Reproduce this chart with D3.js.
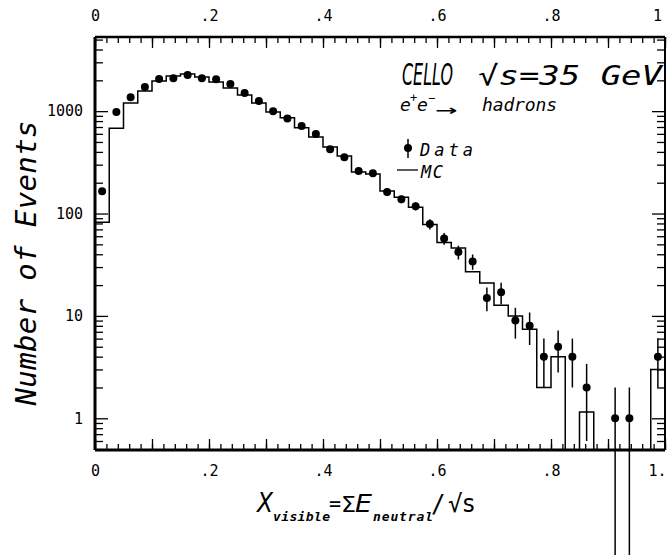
<!DOCTYPE html>
<html>
<head>
<meta charset="utf-8">
<script src="https://cdn.jsdelivr.net/npm/d3@7"></script>
<style>
  body { margin: 0; background: #fff; }
  svg { display: block; overflow: visible; }
  text { fill: #000; }
</style>
</head>
<body>
<div id="graph"></div>
<script>
const width = 669, height = 555;
const margin = {top: 37, right: 4, bottom: 105, left: 95};

// histogram binning: 40 bins of 0.025 in X_visible
const binWidth = 0.025;

// data points, one per bin (null = empty bin)
const dataCounts = [165, 980, 1370, 1720, 2060, 2100, 2260, 2100, 2050, 1840,
                    1500, 1255, 1000, 850, 715, 597, 425, 355, 260, 248,
                    162, 138, 118, 79, 57, 42, 34, 15, 17, 9,
                    8, 4, 5, 4, 2, null, 1, 1, null, 4];
const dataErrors = [13, 31, 37, 41, 45, 46, 48, 46, 45, 43,
                    39, 35, 32, 29, 27, 24, 21, 19, 16, 16,
                    13, 12, 11, 9, 7.5, 6.5, 5.8, 3.9, 4.1, 3,
                    2.8, 2, 2.2, 2, 1.4, null, 1, 1, null, 2];

// Monte Carlo histogram (0 = empty bin)
const mcCounts = [82, 680, 1200, 1570, 1970, 2200, 2300, 2150, 1930, 1680,
                  1440, 1200, 980, 860, 690, 558, 446, 364, 254, 243,
                  166, 144, 115, 78, 52, 46, 27, 21, 12.7, 10,
                  7.4, 2, 4, 0, 1.15, 0, 0, 0, 0, 3];

const xLabelTicks = [0, 0.2, 0.4, 0.6, 0.8, 1];
const xTopLabels = ["0", ".2", ".4", ".6", ".8", "1"];
const xBottomLabels = ["0", ".2", ".4", ".6", ".8", "1."];
const yMajorTicks = [1, 10, 100, 1000];

const plotW = width - margin.left - margin.right;
const plotH = height - margin.top - margin.bottom;

let svg = d3.select("#graph")
    .append("svg")
    .attr("width", width)
    .attr("height", height)
    .append("g")
    .attr("transform", `translate(${margin.left}, ${margin.top})`);

let x = d3.scaleLinear()
    .domain([0, 1])
    .range([0, plotW]);

let y = d3.scaleLog()
    .domain([0.49, 5300])
    .range([plotH, 0]);

// y position, empty bins sit on the bottom edge
function yv(v) { return v > 0 ? y(v) : plotH; }

const mono = "'DejaVu Sans Mono', monospace";

// ---- ticks (all pointing inwards) ----
let minorX = d3.range(51).map(i => i / 50);
let tenthX = d3.range(11).map(i => i / 10);
let logTicks = y.ticks();
let minorY = logTicks.filter(t => !yMajorTicks.includes(t));

function tickStyle(g) {
    g.select(".domain").remove();
    g.selectAll("line").attr("stroke", "#000").attr("stroke-width", 1.3);
}

svg.append("g").attr("transform", `translate(0, ${plotH})`)
    .call(d3.axisBottom(x).tickValues(minorX).tickSize(-6).tickFormat("")).call(tickStyle);
svg.append("g").attr("transform", `translate(0, ${plotH})`)
    .call(d3.axisBottom(x).tickValues(tenthX).tickSize(-11).tickFormat("")).call(tickStyle);
svg.append("g")
    .call(d3.axisTop(x).tickValues(minorX).tickSize(-6).tickFormat("")).call(tickStyle);
svg.append("g")
    .call(d3.axisTop(x).tickValues(tenthX).tickSize(-11).tickFormat("")).call(tickStyle);

// labelled x ticks
let bottomLab = svg.append("g").attr("transform", `translate(0, ${plotH})`)
    .call(d3.axisBottom(x).tickValues(xLabelTicks).tickSize(0).tickPadding(15)
        .tickFormat((d, i) => xBottomLabels[i]));
let topLab = svg.append("g")
    .call(d3.axisTop(x).tickValues(xLabelTicks).tickSize(0).tickPadding(16)
        .tickFormat((d, i) => xTopLabels[i]));
[bottomLab, topLab].forEach(g => {
    g.select(".domain").remove();
    g.selectAll("text").attr("font-family", mono).attr("font-size", 15)
        .attr("dx", d => d === 1 ? -8 : 0);
});

// y ticks left + right
svg.append("g").call(d3.axisLeft(y).tickValues(minorY).tickSize(-8).tickFormat("")).call(tickStyle);
svg.append("g").call(d3.axisLeft(y).tickValues(yMajorTicks).tickSize(-13).tickFormat("")).call(tickStyle);
svg.append("g").attr("transform", `translate(${plotW}, 0)`)
    .call(d3.axisRight(y).tickValues(minorY).tickSize(-8).tickFormat("")).call(tickStyle);
svg.append("g").attr("transform", `translate(${plotW}, 0)`)
    .call(d3.axisRight(y).tickValues(yMajorTicks).tickSize(-13).tickFormat("")).call(tickStyle);

let yLab = svg.append("g")
    .call(d3.axisLeft(y).tickValues(yMajorTicks).tickSize(0).tickPadding(12)
        .tickFormat(d3.format("d")));
yLab.select(".domain").remove();
yLab.selectAll("text").attr("font-family", mono).attr("font-size", 15);

// ---- frame ----
svg.append("line").attr("x1", 0).attr("x2", 0).attr("y1", 0).attr("y2", plotH)
    .attr("stroke", "#000").attr("stroke-width", 3);
svg.append("line").attr("x1", 0).attr("x2", plotW).attr("y1", plotH).attr("y2", plotH)
    .attr("stroke", "#000").attr("stroke-width", 3);
svg.append("line").attr("x1", 0).attr("x2", plotW).attr("y1", 0).attr("y2", 0)
    .attr("stroke", "#000").attr("stroke-width", 2.5);
svg.append("line").attr("x1", plotW).attr("x2", plotW).attr("y1", 0).attr("y2", plotH)
    .attr("stroke", "#000").attr("stroke-width", 2);

// ---- MC histogram ----
let mcPoints = mcCounts.map((v, i) => [i * binWidth, v]);
mcPoints.push([1, mcCounts[mcCounts.length - 1]]);

let step = d3.line()
    .x(d => x(d[0]))
    .y(d => yv(d[1]))
    .curve(d3.curveStepAfter);

svg.append("path")
    .datum(mcPoints)
    .attr("d", step)
    .attr("fill", "none")
    .attr("stroke", "#000")
    .attr("stroke-width", 1.5);

// ---- data points ----
let pts = dataCounts.map((v, i) => ({c: (i + 0.5) * binWidth, v: v, e: dataErrors[i]}))
    .filter(d => d.v !== null);

svg.selectAll(".err").data(pts).enter()
    .append("line")
    .attr("class", "err")
    .attr("x1", d => x(d.c)).attr("x2", d => x(d.c))
    .attr("y1", d => y(d.v + d.e))
    .attr("y2", d => d.v - d.e > 0 ? y(d.v - d.e) : height - margin.top)
    .attr("stroke", "#000")
    .attr("stroke-width", 1.5);

svg.selectAll(".dot").data(pts).enter()
    .append("circle")
    .attr("class", "dot")
    .attr("cx", d => x(d.c))
    .attr("cy", d => y(d.v))
    .attr("r", 4)
    .attr("fill", "#000");

// ---- annotations (page coordinates) ----
let page = d3.select("svg");

function label(txt, px, py, size, opts) {
    opts = opts || {};
    let t = page.append("text")
        .attr("x", px).attr("y", py)
        .attr("font-family", opts.family || mono)
        .attr("font-size", size)
        .attr("font-style", opts.upright ? "normal" : "italic")
        .attr("font-weight", opts.weight || "normal")
        .text(txt);
    if (opts.len) t.attr("textLength", opts.len).attr("lengthAdjust", opts.adjust || "spacing");
    return t;
}

// narrow "CELLO": squeeze horizontally with a scale transform
let cello = page.append("text")
    .attr("font-family", "'DejaVu Sans', sans-serif")
    .attr("font-size", 30)
    .attr("font-style", "italic")
    .text("CELLO");
let celloW = cello.node().getComputedTextLength();
cello.attr("transform", `translate(402, 85) scale(${51 / celloW}, 1)`);

label("\u221As=35 GeV", 478, 85, 27, {len: 184, adjust: "spacingAndGlyphs"});

label("e", 400, 111, 18);
label("+", 410, 102, 12);
label("e", 417, 111, 18);
label("\u2212", 428, 102, 12);
label("\u2192", 435, 116, 20, {upright: true, len: 22, adjust: "spacingAndGlyphs"});
label("hadrons", 482, 111, 18, {len: 75});

// legend
page.append("line").attr("x1", 408).attr("x2", 408).attr("y1", 139).attr("y2", 158)
    .attr("stroke", "#000").attr("stroke-width", 1.5);
page.append("circle").attr("cx", 408).attr("cy", 148).attr("r", 4).attr("fill", "#000");
label("Data", 420, 156, 17, {len: 53});
page.append("line").attr("x1", 397).attr("x2", 418).attr("y1", 170).attr("y2", 170)
    .attr("stroke", "#000").attr("stroke-width", 1.3);
label("MC", 421, 178, 17, {len: 22});

// y axis title
page.append("text")
    .attr("transform", "translate(36, 263) rotate(-90)")
    .attr("text-anchor", "middle")
    .attr("font-family", mono)
    .attr("font-size", 29)
    .attr("font-style", "italic")
    .attr("textLength", 285)
    .attr("lengthAdjust", "spacing")
    .text("Number of Events");

// x axis title
label("X", 257, 512, 26, {family: "'DejaVu Sans', sans-serif", len: 16, adjust: "spacingAndGlyphs"});
label("visible", 273, 521, 13, {weight: "bold", len: 57});
label("=", 329, 510, 20, {upright: true});
label("\u03A3", 341, 512, 22, {family: "'DejaVu Sans', sans-serif", upright: true, len: 15, adjust: "spacingAndGlyphs"});
label("E", 355, 512, 24, {family: "'DejaVu Sans', sans-serif", len: 17, adjust: "spacingAndGlyphs"});
label("neutral", 373, 521, 13, {weight: "bold", len: 60});
label("/", 431, 512, 24, {upright: true});
label("\u221As", 448, 512, 24, {upright: true, len: 28});
</script>
</body>
</html>
